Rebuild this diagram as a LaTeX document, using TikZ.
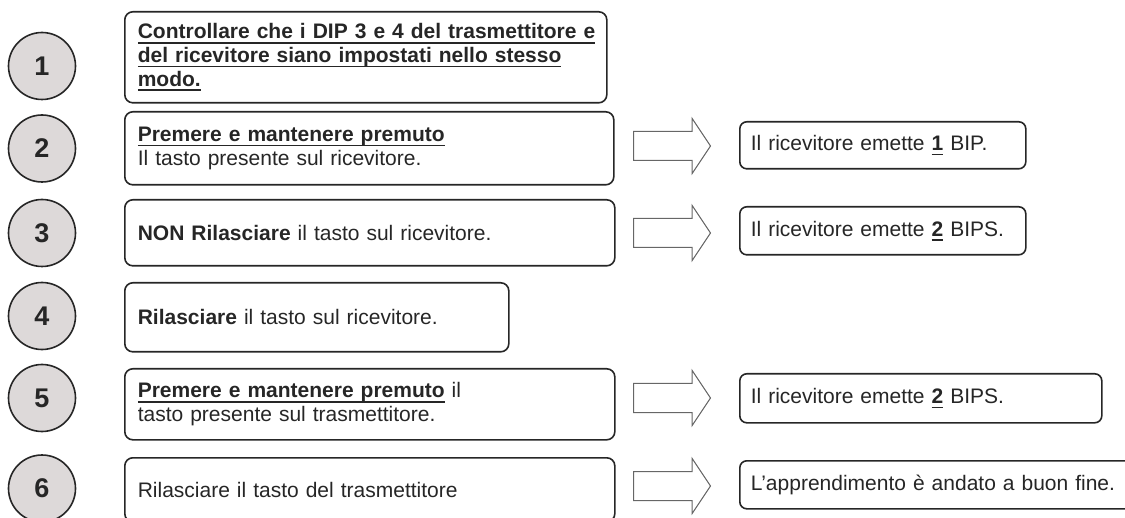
\documentclass[tikz,border=0pt]{standalone}
\usepackage{fontspec}
\setmainfont{Liberation Sans}
\usetikzlibrary{shapes.arrows}
\definecolor{numfill}{RGB}{221,217,217}
\definecolor{ink}{RGB}{38,38,38}
\newsavebox{\ulsave}
\newcommand{\ulbox}[1]{\sbox{\ulsave}{#1}%
  \rlap{\vrule width\wd\ulsave height -1.5pt depth 2.4pt}\usebox{\ulsave}}
\newcommand{\bul}[1]{\textbf{\ulbox{#1}}}

\begin{document}
\begin{tikzpicture}[
        x=0.5pt,y=-0.5pt,
        font=\fontsize{10.5pt}{11.8pt}\selectfont,
        text=ink,
        num/.style={
          draw=ink,circle,line width=0.8pt,fill=numfill,minimum size=33.5pt,
          inner sep=0pt,font=\fontsize{13.5pt}{16pt}\selectfont\bfseries},
        stepbox/.style 2 args={
          draw=ink,line width=0.8pt,rounded corners=4pt,anchor=north west,
          align=left,inner xsep=6.5pt,inner ysep=0pt,
          text width=#1,minimum height=#2},
        resultbox/.style 2 args={
          draw=ink,line width=0.8pt,rounded corners=3.5pt,anchor=north west,
          align=left,inner xsep=5.5pt,inner ysep=0pt,
          text width=#1,minimum height=#2},
        blockarrow/.style={
          draw=black!60,line width=0.5pt,single arrow,anchor=tail,
          single arrow head extend=6.5pt,single arrow tip angle=112.6,
          minimum width=27pt,minimum height=38.5pt,inner xsep=0pt,inner ysep=7pt}]
      \clip (0,0) rectangle (1125,518);
      % numbered steps
      \node[num] (num1) at (42,66) {1};
      \node[num] (num2) at (42,148.5) {2};
      \node[num] (num3) at (42,233) {3};
      \node[num] (num4) at (42,316) {4};
      \node[num] (num5) at (42,398) {5};
      \node[num] (num6) at (42,488.5) {6};
      % instructions
      \node[stepbox={228pt}{45.5pt}] (step1) at (124,11)
        {\bul{Controllare che i DIP 3 e 4 del trasmettitore e}\\
         \bul{del ricevitore siano impostati nello stesso}\\
         \bul{modo.}};
      \node[stepbox={231.5pt}{36.5pt}] (step2) at (124,111)
        {\bul{Premere e mantenere premuto}\\Il tasto presente sul ricevitore.};
      \node[stepbox={232pt}{33pt}] (step3) at (124,199)
        {\textbf{NON Rilasciare} il tasto sul ricevitore.};
      \node[stepbox={179pt}{34.5pt}] (step4) at (124,282)
        {\textbf{Rilasciare} il tasto sul ricevitore.};
      \node[stepbox={232pt}{35.5pt}] (step5) at (124,368)
        {\bul{Premere e mantenere premuto} il\\tasto presente sul trasmettitore.};
      \node[stepbox={232pt}{32pt}] (step6) at (124,457)
        {Rilasciare il tasto del trasmettitore};
      % outcomes
      \node[blockarrow] (arr2) at (633,146) {};
      \node[blockarrow] (arr3) at (633,233) {};
      \node[blockarrow] (arr5) at (633,398) {};
      \node[blockarrow] (arr6) at (633,486) {};
      \node[resultbox={132pt}{23.5pt}] (res2) at (739,121)
        {Il ricevitore emette \bul{1} BIP.};
      \node[resultbox={132pt}{24pt}] (res3) at (739,206)
        {Il ricevitore emette \bul{2} BIPS.};
      \node[resultbox={170pt}{24.5pt}] (res5) at (739,373)
        {Il ricevitore emette \bul{2} BIPS.};
      \node[resultbox={189pt}{24pt}] (res6) at (739,460)
        {L’apprendimento è andato a buon fine.};
    \end{tikzpicture}
\end{document}
